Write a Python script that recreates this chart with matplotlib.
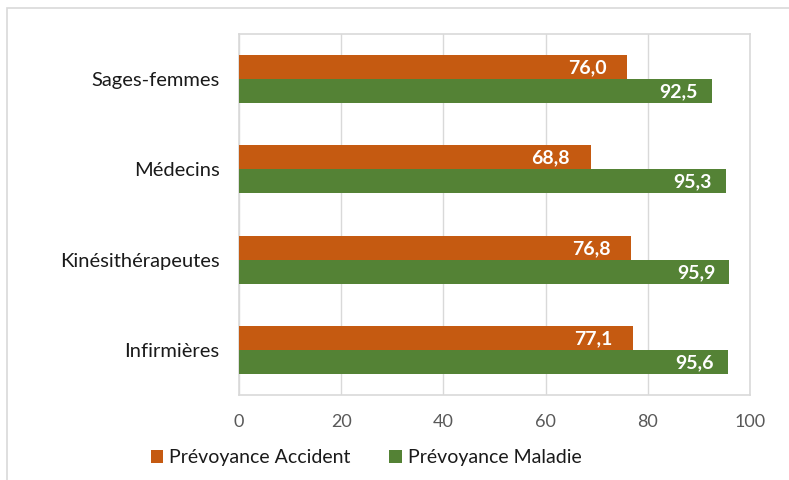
import matplotlib
matplotlib.use("Agg")
import matplotlib.pyplot as plt
from matplotlib.patches import Rectangle
import numpy as np

categories = ["Sages-femmes", "Médecins", "Kinésithérapeutes", "Infirmières"]
accident = [76.0, 68.8, 76.8, 77.1]
maladie = [92.5, 95.3, 95.9, 95.6]
series_names = ["Prévoyance Accident", "Prévoyance Maladie"]
xticks = [0, 20, 40, 60, 80, 100]

plt.rcParams['font.family'] = ['Lato', 'DejaVu Sans']

c_acc = "#C55A11"
c_mal = "#548235"

fig = plt.figure(figsize=(7.89, 4.8), dpi=100)
fig.patches.append(Rectangle((7/789, -0.1), 1.2, 1 - 8/480 + 0.1, transform=fig.transFigure,
                             fill=False, edgecolor="#D9D9D9", linewidth=1.2))
ax = fig.add_axes([239/789, 1 - 395/480, (750-239)/789, (395-34)/480])

y = np.arange(len(categories))
h = 0.267
b1 = ax.barh(y - h/2, accident, height=h, color=c_acc, label=series_names[0], zorder=3)
b2 = ax.barh(y + h/2, maladie, height=h, color=c_mal, label=series_names[1], zorder=3)

for bars, vals, off in ((b1, accident, -15), (b2, maladie, -10)):
    for bar, v in zip(bars, vals):
        ax.annotate(f"{v:.1f}".replace(".", ","),
                    (bar.get_width(), bar.get_y() + bar.get_height()/2),
                    xytext=(off, -0.5), textcoords="offset points",
                    ha="right", va="center", color="white", fontweight="bold",
                    fontsize=14, zorder=4)

ax.set_ylim(len(categories) - 0.5, -0.5)
ax.set_xlim(0, 100)
ax.set_xticks(xticks)
ax.set_yticks(y)
ax.set_yticklabels(categories, fontsize=14.5, color="#1A1A1A")
ax.tick_params(axis="x", labelsize=13, colors="#595959", length=0, pad=14)
ax.tick_params(axis="y", length=0, pad=14)
ax.grid(axis="x", color="#D9D9D9", linewidth=1, zorder=0)
for s in ax.spines.values():
    s.set_color("#D9D9D9")
    s.set_linewidth(1.2)

leg = ax.legend(loc="center", bbox_to_anchor=(366/789, 1 - 458/480), bbox_transform=fig.transFigure,
                ncol=2, frameon=False, fontsize=14, handlelength=0.65, handleheight=0.65,
                columnspacing=2.0, handletextpad=0.3, borderpad=0)
for t in leg.get_texts():
    t.set_color("#1A1A1A")

fig.savefig("out.png", dpi=100)
